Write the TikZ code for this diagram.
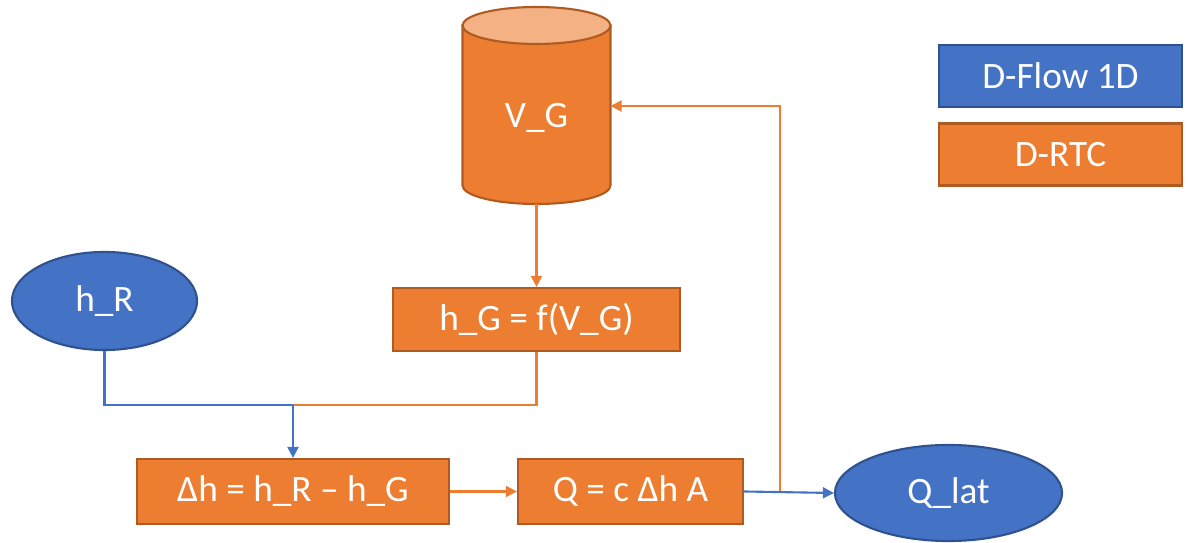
\documentclass[tikz,border=0pt]{standalone}
\usepackage{fontspec}
\setmainfont{Carlito}
\usepackage{xcolor}
\usepackage{tikz}
\usetikzlibrary{positioning, calc, arrows.meta, shapes.geometric}
\definecolor{flowfill} {HTML}{4472C4}
\definecolor{flowedge} {HTML}{2F528F}
\definecolor{rtcfill}  {HTML}{ED7D31}
\definecolor{rtcedge}  {HTML}{AE5A21}
\definecolor{rtclight} {HTML}{F4B183}

\begin{document}
\begin{tikzpicture}[x=0.01cm, y=0.01cm,
    every node/.style={font=\fontsize{10.6}{12}\selectfont, text=white, inner sep=0pt},
    rtcbox/.style={rectangle, fill=rtcfill, draw=rtcedge, line width=0.6pt},
    flowbox/.style={rectangle, fill=flowfill, draw=flowedge, line width=0.6pt},
    flowoval/.style={ellipse, fill=flowfill, draw=flowedge, line width=0.6pt},
    rtcline/.style={draw=rtcfill, line width=0.6pt},
    flowline/.style={draw=flowfill, line width=0.6pt},
    tip/.style={-{Triangle[length=0.11cm, width=0.11cm]}}]
  \useasboundingbox (0,0) rectangle (1188,543);

  % storage
  \filldraw[fill=rtcfill, draw=rtcedge, line width=0.6pt]
    (462.5,517.5) -- (462.5,357.5)
    arc[start angle=180, end angle=360, x radius=74, y radius=18.5]
    -- (610.5,517.5) -- cycle;
  \filldraw[fill=rtclight, draw=rtcedge, line width=0.6pt]
    (536.5,517.5) ellipse[x radius=74, y radius=18.5];
  \node (vg) at (536.5,425) {V\_G};
  \coordinate (vgbot) at (536.5,339);
  \coordinate (vgside) at (610.5,437);

  % model blocks
  \node[flowoval, minimum width=1.85cm, minimum height=0.98cm] (hr) at (104.5,242) {h\_R};
  \node[rtcbox, minimum width=2.87cm, minimum height=0.63cm] (hg) at (536.5,223.5) {h\_G = f(V\_G)};
  \node[rtcbox, minimum width=3.12cm, minimum height=0.65cm] (dh) at (293,51.5) {Δh = h\_R – h\_G};
  \node[rtcbox, minimum width=2.25cm, minimum height=0.65cm] (q) at (630.5,51.5) {Q = c Δh A};
  \node[flowoval, minimum width=2.27cm, minimum height=0.96cm] (qlat) at (948.5,50) {Q\_lat};

  % legend
  \foreach \nm/\sty/\yy/\lbl in {flow/flowbox/467/D-Flow 1D, rtc/rtcbox/388.5/D-RTC}
    \node[\sty, minimum width=2.43cm, minimum height=0.62cm] (\nm) at (1060.5,\yy) {\lbl};

  % connectors
  \coordinate (merge) at (293,138);
  \coordinate (back) at (780,50);
  \draw[rtcline, tip] (vgbot) -- (hg.north);
  \draw[flowline] (hr.south) |- (merge);
  \draw[rtcline] (hg.south) |- (merge);
  \draw[flowline, tip] (merge) -- (dh.north);
  \draw[rtcline, tip] (dh.east) -- (q.west);
  \draw[rtcline, tip] (back) |- (vgside);
  \draw[flowline, tip] (q.east) -- (qlat.west);
\end{tikzpicture}
\end{document}
